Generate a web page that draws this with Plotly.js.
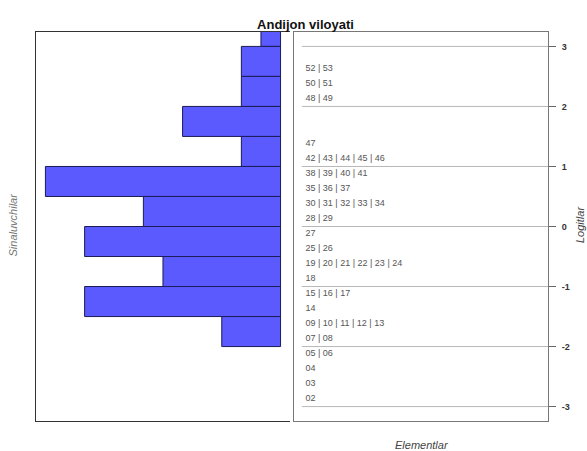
<!DOCTYPE html>
<html>
<head>
<meta charset="utf-8">
<script src="https://cdn.plot.ly/plotly-3.0.1.min.js"></script>
<style>html,body{margin:0;padding:0;background:#fff;}#chart{width:587px;height:451px;}</style>
</head>
<body>
<div id="chart"></div>
<script>
// Person histogram (Sinaluvchilar): bin centers (logits) and counts
var binCenters = [3.25, 2.75, 2.25, 1.75, 1.25, 0.75, 0.25, -0.25, -0.75, -1.25, -1.75];
var binCounts  = [1, 2, 2, 5, 2, 12, 7, 10, 6, 10, 3];
var binWidth = 0.5;

// Item labels (Elementlar) and their logit positions
var itemLabels = [
  "52 | 53", "50 | 51", "48 | 49", "47", "42 | 43 | 44 | 45 | 46",
  "38 | 39 | 40 | 41", "35 | 36 | 37", "30 | 31 | 32 | 33 | 34", "28 | 29",
  "27", "25 | 26", "19 | 20 | 21 | 22 | 23 | 24", "18", "15 | 16 | 17", "14",
  "09 | 10 | 11 | 12 | 13", "07 | 08", "05 | 06", "04", "03", "02"
];
var itemLogits = [
  2.625, 2.375, 2.125, 1.375, 1.125,
  0.875, 0.625, 0.375, 0.125,
  -0.125, -0.375, -0.625, -0.875, -1.125, -1.375,
  -1.625, -1.875, -2.125, -2.375, -2.625, -2.875
];

// Logit axis ticks / reference lines
var logitTicks = [-3, -2, -1, 0, 1, 2, 3];
var logitRange = [-3.24, 3.24];

var gridX = [], gridY = [];
logitTicks.forEach(function (v) { gridX.push(0.031, 1, null); gridY.push(v, v, null); });

var traces = [
  {
    type: 'bar', orientation: 'h',
    x: binCounts, y: binCenters, width: binWidth,
    xaxis: 'x', yaxis: 'y',
    marker: { color: '#5a5aff', line: { color: '#1c1c55', width: 1 } },
    hoverinfo: 'x+y', showlegend: false
  },
  {
    type: 'scatter', mode: 'lines',
    x: gridX, y: gridY, xaxis: 'x2', yaxis: 'y2',
    line: { color: '#b8b8b8', width: 1 }, hoverinfo: 'skip', showlegend: false
  },
  {
    type: 'scatter', mode: 'text',
    x: itemLabels.map(function () { return 0.045; }), y: itemLogits,
    text: itemLabels, textposition: 'middle right',
    textfont: { family: 'Liberation Sans, Arial, sans-serif', size: 9, color: '#555' },
    xaxis: 'x2', yaxis: 'y2', hoverinfo: 'text', showlegend: false
  }
];

var layout = {
  width: 587, height: 451,
  margin: { l: 36, r: 39, t: 32, b: 30 },
  paper_bgcolor: '#fff', plot_bgcolor: '#fff',
  font: { family: 'Liberation Sans, Arial, sans-serif', color: '#333' },
  title: {
    text: '<b>Andijon viloyati</b>',
    font: { family: 'Liberation Sans, Arial, sans-serif', size: 13, color: '#111' },
    x: 0.5204, xref: 'container', xanchor: 'center',
    y: 1 - 24 / 451, yref: 'container', yanchor: 'middle'
  },
  xaxis: {
    domain: [0, 0.496], range: [12.48, -0.48],
    showticklabels: false, ticks: '', showgrid: false, zeroline: false,
    showline: true, mirror: true, linecolor: '#333', linewidth: 1
  },
  yaxis: {
    domain: [0, 1], range: logitRange, anchor: 'x',
    showticklabels: false, ticks: '', showgrid: false, zeroline: false,
    showline: true, mirror: false, linecolor: '#333', linewidth: 1
  },
  xaxis2: {
    domain: [0.504, 1], range: [0, 1], anchor: 'y2',
    showticklabels: false, ticks: '', showgrid: false, zeroline: false,
    showline: true, mirror: true, linecolor: '#777', linewidth: 1
  },
  yaxis2: {
    domain: [0, 1], range: logitRange, anchor: 'x2', side: 'right',
    tickvals: logitTicks, ticktext: logitTicks.map(String),
    ticks: 'outside', ticklen: 7, tickcolor: '#666', tickwidth: 1,
    ticklabelstandoff: 4,
    tickfont: { family: 'Liberation Sans, Arial, sans-serif', size: 9, color: '#333', weight: 'bold' },
    showgrid: false, zeroline: false,
    showline: true, mirror: true, linecolor: '#777', linewidth: 1
  },
  annotations: [
    {
      text: '<i>Elementlar</i>', xref: 'paper', yref: 'paper',
      x: (422 - 36) / 512, y: (451 - 30 - 445) / 389, xanchor: 'center', yanchor: 'middle',
      showarrow: false, font: { family: 'Liberation Sans, Arial, sans-serif', size: 11, color: '#444' }
    },
    {
      text: '<i>Sinaluvchilar</i>', xref: 'paper', yref: 'paper',
      x: (12.5 - 36) / 512, y: (421 - 225) / 389, xanchor: 'center', yanchor: 'middle', textangle: -90,
      showarrow: false, font: { family: 'Liberation Sans, Arial, sans-serif', size: 11, color: '#777' }
    },
    {
      text: '<i>Logitlar</i>', xref: 'paper', yref: 'paper',
      x: (580 - 36) / 512, y: (421 - 225) / 389, xanchor: 'center', yanchor: 'middle', textangle: -90,
      showarrow: false, font: { family: 'Liberation Sans, Arial, sans-serif', size: 11, color: '#444' }
    }
  ]
};

Plotly.newPlot('chart', traces, layout, { displayModeBar: false, staticPlot: true });
</script>
</body>
</html>
